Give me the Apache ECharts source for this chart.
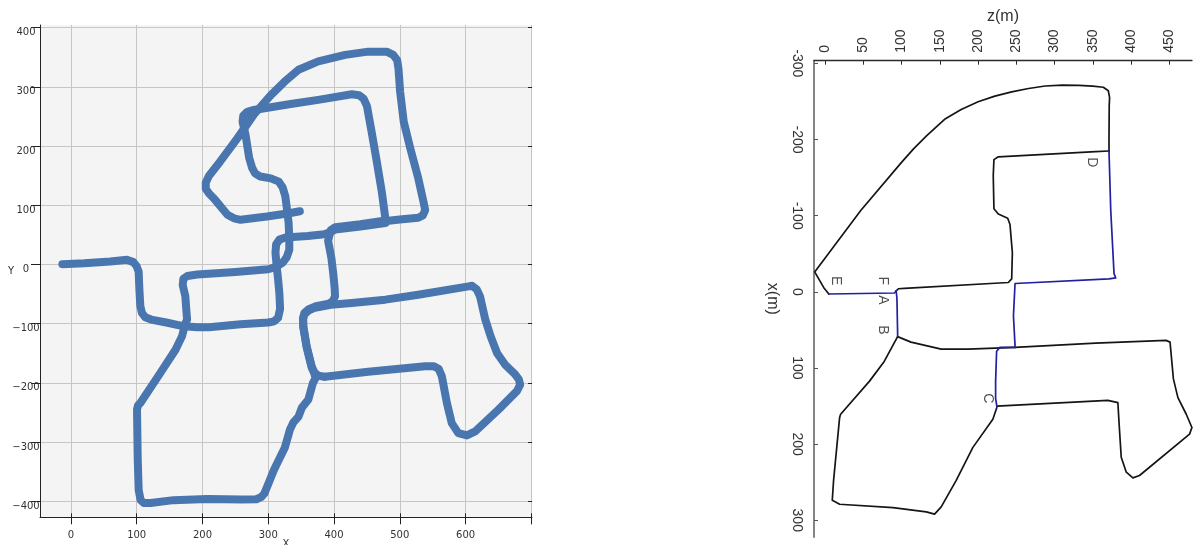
<!DOCTYPE html>
<html>
<head>
<meta charset="utf-8">
<script src="https://cdn.jsdelivr.net/npm/echarts@6/dist/echarts.min.js"></script>
<style>
html,body{margin:0;padding:0;background:#ffffff;}
#chart{width:1196px;height:545px;}
</style>
</head>
<body>
<div id="chart"></div>
<script>
// ---------- left panel: estimated trajectory (X / Y) ----------
const estXTicks = [0, 100, 200, 300, 400, 500, 600, 700];
const estXLabels = [0, 100, 200, 300, 400, 500, 600];
const estYTicks = [-400, -300, -200, -100, 0, 100, 200, 300, 400];

const estTrackA = [[-13,0.5],[20,2],[60,5],[85,8],[95,4],[100,-3],[103,-12],[104,-40],[105.5,-70],[108,-82],[113,-89],[122,-93],[145,-98],[172,-104.5],[192,-106],[210,-106],[258,-101],[300,-98],[309,-96],[315,-90],[318,-75],[317,-50],[315,-25],[313,-5],[311,20],[312,34],[317,42],[326,45.5],[360,48],[385,51],[395,55],[402,59],[440,64],[478,70]];
const estTrackB = [[172,-104.5],[176.6,-93],[175,-70],[174,-54],[170,-35],[171,-24],[177,-19.5],[192,-17],[250,-12.5],[300,-8],[312,-4],[322,3],[328,12],[332,25],[332,44],[331,70],[329,89],[326,115],[322,130],[316,140],[304,145.5],[288,148.5],[280,154],[275.6,163],[271,180],[265.5,219],[261,241],[262,251],[268,258],[278,261],[334,271],[376,278],[427,287.5],[438,286],[445,280],[450,268],[457,225],[465,174],[472.6,123],[476,95],[478,78],[476,74],[440,68],[402,63],[395,58],[391,40],[396,11],[399,-17],[401,-40],[401.5,-54],[398,-62],[392,-66],[371,-71],[361,-76],[355,-82],[353,-90],[353.3,-104.5],[358.4,-138],[366,-172],[370,-182],[376,-188],[386,-189.5]];
const estTrackC = [[386,-189.5],[452,-181],[538.6,-172],[552,-172],[559,-176],[564,-189],[571.6,-234],[579,-268],[589,-284.8],[602,-288.7],[614.7,-282],[650,-245],[678,-214],[683,-203],[681,-194],[675,-185],[660,-169],[648,-150],[638,-121],[630,-93],[622,-54],[617,-42],[610,-36],[604.6,-37],[528,-51],[478,-59.4],[427,-65],[395,-68],[371,-73],[361,-78],[355,-84],[353,-92],[353.3,-106],[358.4,-140],[366,-174],[370,-184],[372,-192],[368,-200],[361,-228],[351,-242],[346,-257],[338,-267],[333,-279],[325,-310],[318.8,-324],[308.6,-347],[298.5,-375],[294,-387],[289,-393],[282,-396.5],[260,-397],[207,-396],[156,-398],[121,-403],[111,-403],[106,-398],[103,-381],[101.5,-324],[100.5,-245],[102,-238],[105.6,-234],[136,-183],[159,-144],[169,-121],[172,-108]];
const estTrackD = [[476,73],[500,76],[528,79],[535,83],[538.6,92],[536,106],[528,146],[516,196],[506,241],[500.5,292],[498,331],[496,345],[490,354],[480,359.5],[452,359.5],[417,354],[376,343],[346,329],[325,309],[304,286],[278,253],[253,213],[227,174],[210,150],[205,138],[205,128],[210,120],[217,112],[238,84],[248,78],[258,75.5],[298,81],[334,87],[348,90]];

// ---------- right panel: reference map, z(m) across, x(m) down ----------
const mapZTicks = [0, 50, 100, 150, 200, 250, 300, 350, 400, 450];
const mapXTicks = [-300, -200, -100, 0, 100, 200, 300];

const mapBlackArc = [[5,2.9],[-1.6,-5.4],[-13.5,-26.1],[46.7,-106.8],[100,-170],[116,-188],[133,-205],[156.3,-226.6],[178,-239.5],[200.1,-249.5],[222,-257],[244,-262.5],[266,-267],[287.8,-270.3],[310,-271.5],[331.7,-271.2],[350,-270],[363.8,-268.6],[370.3,-264],[372,-255],[371.5,-245],[371.2,-198.9],[371.2,-184.1]];
const mapBlackInner = [[92.7,-0.8],[96,-4],[103.7,-4.5],[239.6,-12.2],[244,-16.9],[244.9,-51.5],[241.8,-88.3],[238.8,-96.7],[226.5,-102.2],[220.8,-109],[219.9,-152.9],[220.8,-173.6],[226.5,-177.3],[353.7,-184.1],[371.2,-184.9]];
const mapBlackEast = [[94.9,58.9],[112.4,66.1],[151.9,75.3],[187.1,75.3],[248.4,73],[353.7,67.5],[445.8,63.8],[451,66.1],[455.4,114.4],[461.3,139],[472.2,160.8],[479.6,178.2],[476.5,186.9],[411.1,241.2],[402.4,244.3],[393.8,236.9],[387.2,217.3],[385,182.6],[382.8,145.6],[369.7,142.5],[224.6,150]];
const mapBlackSouth = [[94.9,58.9],[92.7,61.5],[77.4,91.4],[58.2,117.3],[20.4,160.8],[19.1,165],[11.2,247.7],[9.5,273.8],[19.1,279],[88.8,283.4],[132.3,289],[143.2,292],[151.9,282.5],[171.5,247.7],[193.3,204.3],[219.4,167.3],[224.6,152]];
const mapBlueDC = [[371.2,-184.9],[373.5,-106.8],[377.8,-23.8],[380,-18.3],[371.2,-16.9],[248.4,-10.9],[246.3,-9],[246.3,31.5],[248.4,70.7],[248.4,73]];
const mapBlueEA = [[5,2.9],[90.5,1.6],[93,-1]];
const mapBlueAB = [[93,-1],[94,8.5],[94.9,54.6],[94.9,58.2]];
const mapBlueC = [[224.6,150],[223,140],[223,117],[224.3,78],[228.6,73],[248.4,73]];

const mapLetters = ['A', 'B', 'C', 'D', 'E', 'F'];
const mapLetterPos = [[75.2,10.8],[75.2,49.9],[213,140],[349,-170],[13.7,-14.6],[75.2,-14.6]];

const estColor = '#4a76af';
const minus = v => (v < 0 ? '\u2212' + Math.abs(v) : String(v));

function estLine(data) {
  return {
    type: 'line', xAxisIndex: 0, yAxisIndex: 0, data: data,
    showSymbol: false, symbol: 'none', smooth: false, silent: true,
    lineStyle: { color: estColor, width: 8, cap: 'round', join: 'round' }
  };
}
function mapLine(data, color) {
  return {
    type: 'line', xAxisIndex: 2, yAxisIndex: 2, data: data,
    showSymbol: false, symbol: 'none', smooth: false, silent: true,
    lineStyle: { color: color, width: 1.7, cap: 'round', join: 'round' }
  };
}

const chart = echarts.init(document.getElementById('chart'), null, { renderer: 'canvas' });
const option = {
  animation: false,
  backgroundColor: '#ffffff',
  grid: [
    { left: 40, top: 25, width: 492, height: 492.3, show: true, backgroundColor: '#f4f4f4', borderWidth: 0, containLabel: false, outerBoundsMode: 'none' },
    { left: 814, top: 60.7, width: 378, height: 476.3, show: false, containLabel: false, outerBoundsMode: 'none' }
  ],
  xAxis: [
    {
      gridIndex: 0, type: 'value', min: -47, max: 701, position: 'bottom', splitNumber: 8,
      axisLine: { show: true, onZero: false, lineStyle: { color: '#222', width: 1 } },
      axisTick: { show: true, customValues: estXTicks, length: 7, lineStyle: { color: '#222', width: 1 } },
      axisLabel: { customValues: estXLabels, margin: 13, fontSize: 10, color: '#333', fontFamily: 'DejaVu Sans' },
      splitLine: { show: true, lineStyle: { color: '#c6c6c6', width: 1 } },
      name: 'X', nameLocation: 'middle', nameGap: 22, nameMoveOverlap: false,
      nameTextStyle: { fontSize: 10, color: '#333', fontFamily: 'DejaVu Sans' }
    },
    {
      gridIndex: 0, type: 'value', min: -47, max: 701, position: 'bottom',
      axisLine: { show: false, onZero: false },
      axisTick: { show: true, inside: true, customValues: estXTicks, length: 4, lineStyle: { color: '#222', width: 1 } },
      axisLabel: { show: false }, splitLine: { show: false }
    },
    {
      gridIndex: 1, type: 'value', min: -14.4, max: 479.7, position: 'top',
      axisLine: { show: true, onZero: false, lineStyle: { color: '#2a2a2a', width: 1.3 } },
      axisTick: { show: true, inside: true, customValues: mapZTicks, length: 4, lineStyle: { color: '#2a2a2a', width: 1 } },
      axisLabel: { customValues: mapZTicks, rotate: -90, margin: 8, fontSize: 14, color: '#333', fontFamily: 'Liberation Sans' },
      splitLine: { show: false },
      name: 'z(m)', nameLocation: 'middle', nameGap: 36, nameMoveOverlap: false,
      nameTextStyle: { fontSize: 16, color: '#333', fontFamily: 'Liberation Sans' }
    }
  ],
  yAxis: [
    {
      gridIndex: 0, type: 'value', min: -427, max: 404.5, splitNumber: 8,
      axisLine: { show: true, onZero: false, lineStyle: { color: '#222', width: 1 } },
      axisTick: { show: true, customValues: estYTicks, length: 9, lineStyle: { color: '#222', width: 1 } },
      axisLabel: { customValues: estYTicks, formatter: minus, align: 'center', verticalAlign: 'top', lineHeight: 10, margin: 14, fontSize: 10, color: '#333', fontFamily: 'DejaVu Sans' },
      splitLine: { show: true, lineStyle: { color: '#c6c6c6', width: 1 } },
      name: 'Y', nameLocation: 'middle', nameRotate: 0, nameGap: 29, nameMoveOverlap: false,
      nameTextStyle: { fontSize: 10, color: '#333', fontFamily: 'DejaVu Sans', align: 'center', verticalAlign: 'middle', padding: [8, 0, 0, 0] }
    },
    {
      gridIndex: 0, type: 'value', min: -427, max: 404.5,
      axisLine: { show: false, onZero: false },
      axisTick: { show: true, inside: true, customValues: estYTicks, length: 4, lineStyle: { color: '#222', width: 1 } },
      axisLabel: { show: false }, splitLine: { show: false }
    },
    {
      gridIndex: 1, type: 'value', min: -303.5, max: 322, inverse: true, position: 'left',
      axisLine: { show: true, onZero: false, lineStyle: { color: '#858585', width: 2 } },
      axisTick: { show: true, inside: true, customValues: mapXTicks, length: 4, lineStyle: { color: '#555', width: 1 } },
      axisLabel: { customValues: mapXTicks, rotate: -90, margin: 10, fontSize: 14, color: '#333', fontFamily: 'Liberation Sans' },
      splitLine: { show: false },
      name: 'x(m)', nameLocation: 'middle', nameRotate: -90, nameGap: 34, nameMoveOverlap: false,
      nameTextStyle: { fontSize: 16, color: '#333', fontFamily: 'Liberation Sans' }
    }
  ],
  series: [
    estLine(estTrackA), estLine(estTrackB), estLine(estTrackC), estLine(estTrackD),
    mapLine(mapBlackArc, '#151515'), mapLine(mapBlackInner, '#151515'),
    mapLine(mapBlackEast, '#151515'), mapLine(mapBlackSouth, '#151515'),
    mapLine(mapBlueDC, '#2020a0'), mapLine(mapBlueEA, '#2020a0'),
    mapLine(mapBlueAB, '#2020a0'), mapLine(mapBlueC, '#2020a0'),
    {
      type: 'scatter', xAxisIndex: 2, yAxisIndex: 2, silent: true,
      symbolSize: 1, itemStyle: { color: 'rgba(0,0,0,0)' },
      data: mapLetterPos.map((p, i) => ({ value: p, name: mapLetters[i] })),
      label: { show: true, position: 'inside', formatter: '{b}', rotate: -90, fontSize: 14, color: '#222', fontFamily: 'Liberation Sans' }
    }
  ]
};
chart.setOption(option);
</script>
</body>
</html>
